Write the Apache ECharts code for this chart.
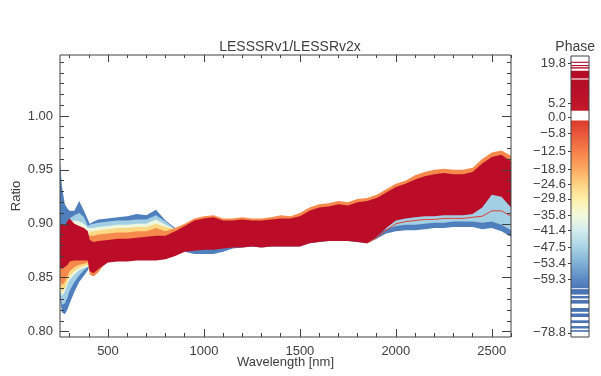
<!DOCTYPE html>
<html>
<head>
<meta charset="utf-8">
<script src="https://cdn.jsdelivr.net/npm/echarts@6/dist/echarts.min.js"></script>
<style>
  html, body { margin: 0; padding: 0; background: #fff; }
  #chart { width: 601px; height: 376px; }
</style>
</head>
<body>
<div id="chart"></div>
<script>
// wavelength grid (nm) the envelopes were read at
const wavelengths = [
  250, 260, 275, 290, 300, 325, 350, 375, 395,
  405, 425, 450, 500, 550, 600, 650, 700, 750, 800, 850,
  900, 950, 1000, 1050, 1100, 1150, 1200, 1250, 1300, 1350, 1400,
  1450, 1500, 1550, 1600, 1650, 1700, 1750, 1800, 1850, 1900, 1950,
  2000, 2050, 2100, 2150, 2200, 2250, 2300, 2350, 2400, 2450, 2500, 2550, 2600
];

// ratio envelopes of the spectra, grouped by phase colour
const blueLo = [
  .830, .818, .816, .821, .826, .837, .846, .852, .857,
  .861, .859, .863, .869, .870, .870, .871, .871, .871, .872, .875,
  .874, .872, .872, .872, .874, .877, .878, .879, .878, .879, .879,
  .879, .879, .882, .883, .884, .884, .884, .883, .882, .886, .891,
  .893, .894, .894, .895, .896, .896, .897, .897, .897, .895, .896, .893, .888
];
const blueHi = [
  .958, .935, .918, .914, .912, .912, .921, .912, .904,
  .900, .902, .904, .905, .906, .907, .909, .908, .913, .903, .896,
  .894, .899, .901, .902, .899, .899, .900, .899, .899, .900, .901,
  .901, .903, .908, .911, .912, .914, .913, .916, .917, .920, .925,
  .930, .933, .937, .940, .942, .943, .942, .942, .944, .952, .958, .960, .954
];
const lightBlueLo = [
  .836, .825, .826, .832, .838, .846, .852, .857, .860,
  .861, .859, .863, .869, .870, .870, .871, .871, .871, .872, .875,
  .879, .880, .881, .881, .882, .883, .883, .884, .883, .884, .884,
  .884, .884, .887, .888, .889, .889, .889, .888, .887, .893, .895,
  .898, .899, .899, .900, .901, .901, .902, .902, .902, .901, .902, .899, .894
];
const lightBlueHi = [
  .892, .895, .893, .898, .905, .908, .910, .906, .898,
  .899, .900, .901, .902, .903, .903, .904, .904, .908, .902, .895,
  .894, .899, .901, .902, .899, .899, .900, .899, .899, .900, .901,
  .901, .903, .908, .911, .912, .914, .913, .916, .917, .920, .925,
  .930, .933, .937, .940, .942, .943, .942, .942, .944, .952, .958, .960, .954
];
const paleLo = [
  .839, .833, .837, .844, .848, .853, .857, .859, .860,
  .861, .859, .863, .869, .870, .870, .871, .871, .871, .872, .875,
  .879, .880, .881, .881, .882, .883, .883, .884, .883, .884, .884,
  .884, .884, .887, .888, .889, .889, .889, .888, .887, .893, .901,
  .908, .910, .911, .912, .912, .913, .913, .913, .914, .920, .932, .930, .920
];
const paleHi = [
  .892, .895, .893, .898, .902, .903, .902, .900, .896,
  .896, .896, .897, .898, .899, .899, .900, .900, .904, .899, .895,
  .894, .899, .901, .902, .899, .899, .900, .899, .899, .900, .901,
  .901, .903, .908, .911, .912, .914, .913, .916, .917, .920, .925,
  .930, .933, .937, .940, .942, .943, .942, .942, .944, .952, .958, .960, .954
];
const yellowLo = [
  .842, .836, .840, .847, .851, .856, .859, .861, .862,
  .861, .859, .863, .869, .870, .870, .871, .871, .871, .872, .875,
  .879, .880, .881, .881, .882, .883, .883, .884, .883, .884, .884,
  .884, .884, .887, .888, .889, .889, .889, .888, .887, .893, .901,
  .908, .910, .911, .912, .912, .913, .913, .913, .914, .920, .932, .930, .920
];
const yellowHi = [
  .892, .895, .893, .898, .900, .895, .893, .891, .888,
  .893, .893, .894, .895, .896, .896, .897, .897, .900, .897, .895,
  .894, .899, .901, .902, .899, .899, .900, .899, .899, .900, .901,
  .901, .903, .908, .911, .912, .914, .913, .916, .917, .920, .925,
  .930, .933, .937, .940, .942, .943, .942, .942, .944, .952, .958, .960, .954
];
const orangeLo = [
  .848, .843, .846, .852, .856, .860, .862, .863, .864,
  .853, .851, .855, .867, .868, .868, .869, .869, .869, .870, .873,
  .877, .878, .879, .879, .880, .881, .881, .882, .881, .882, .882,
  .882, .882, .885, .886, .887, .887, .887, .886, .885, .891, .899,
  .906, .908, .909, .910, .910, .911, .911, .911, .912, .918, .930, .928, .918
];
const orangeHi = [
  .894, .897, .895, .900, .902, .897, .895, .893, .890,
  .889, .889, .890, .891, .892, .892, .893, .893, .896, .893, .896,
  .900, .905, .907, .908, .905, .905, .906, .905, .905, .906, .908,
  .907, .910, .915, .918, .919, .921, .920, .923, .924, .927, .932,
  .937, .940, .945, .948, .950, .951, .950, .950, .952, .960, .966, .968, .963
];
const darkRedLo = [
  .860, .858, .860, .862, .865, .866, .866, .866, .866,
  .856, .854, .858, .864, .865, .865, .866, .866, .866, .867, .870,
  .874, .875, .876, .876, .877, .878, .878, .879, .878, .879, .879,
  .879, .879, .882, .883, .884, .884, .884, .883, .882, .888, .896,
  .903, .905, .906, .907, .907, .908, .908, .908, .909, .915, .927, .925, .915
];
const darkRedHi = [
  .897, .900, .898, .903, .905, .900, .898, .896, .893,
  .885, .883, .884, .885, .886, .886, .887, .888, .889, .889, .893,
  .898, .903, .905, .906, .903, .903, .904, .903, .903, .904, .905,
  .905, .907, .912, .915, .916, .918, .917, .920, .921, .924, .929,
  .934, .937, .941, .944, .946, .947, .946, .946, .948, .956, .962, .964, .958
];

// one single near-zero-phase spectrum seen under the red mass
const redLineWl = [1850, 1900, 1950, 2000, 2050, 2100, 2150, 2200, 2250, 2300, 2350, 2400, 2450, 2500, 2550, 2600];
const redLineVals = [.882, .887, .894, .900, .902, .903, .904, .904, .905, .905, .905, .906, .907, .912, .912, .907];

// colour bar: phase ranges that hold data, and labelled phases
const phaseRanges = [
  [-78.4, -77.8], [-77.2, -76.3], [-75.2, -74.2], [-73.0, -71.7], [-71.1, -69.7],
  [-68.1, -66.8], [-66.2, -65.3], [-64.8, -62.8], [-62.5, -1.2],
  [2.4, 13.8], [14.2, 17.0], [17.8, 18.3], [18.7, 19.1], [19.9, 20.3]
];
const phaseLabels = [19.8, 5.2, 0.0, -5.8, -12.5, -18.9, -24.6, -29.8, -35.8, -41.4, -47.5, -53.4, -59.3, -78.8];
const phaseColorStops = [
  [-63, '#4a74b4'], [-59.3, '#5a8ac2'], [-53.4, '#7fb0d5'], [-47.5, '#a8d3e6'],
  [-41.4, '#d3ecef'], [-35.8, '#f2f9dc'], [-29.8, '#fff0a8'], [-24.6, '#fed283'],
  [-18.9, '#fcaa62'], [-12.5, '#f6804a'], [-5.8, '#e9563a'], [-1.2, '#da3a2c'],
  [2.4, '#c41a2a'], [10, '#b70f28'], [20, '#b00a26']
];

const xMajor = [500, 1000, 1500, 2000, 2500];
const xMinor = [300, 400, 600, 700, 800, 900, 1100, 1200, 1300, 1400, 1600, 1700, 1800, 1900, 2100, 2200, 2300, 2400, 2600];
const yMajor = [0.80, 0.85, 0.90, 0.95, 1.00];
const yMinor = [0.81, 0.82, 0.83, 0.84, 0.86, 0.87, 0.88, 0.89, 0.91, 0.92, 0.93, 0.94, 0.96, 0.97, 0.98, 0.99, 1.01, 1.02, 1.03, 1.04, 1.05];

const ink = '#404040';
const font = { color: ink, fontFamily: 'Liberation Sans', fontSize: 13 };

function hexRgb(h) {
  return [1, 3, 5].map(i => parseInt(h.substr(i, 2), 16));
}
function colorAt(p) {
  const s = phaseColorStops;
  if (p <= s[0][0]) return s[0][1];
  if (p >= s[s.length - 1][0]) return s[s.length - 1][1];
  for (let i = 1; i < s.length; i++) {
    if (p <= s[i][0]) {
      const t = (p - s[i - 1][0]) / (s[i][0] - s[i - 1][0]);
      const a = hexRgb(s[i - 1][1]), b = hexRgb(s[i][1]);
      const c = a.map((v, k) => Math.round(v + (b[k] - v) * t));
      return 'rgb(' + c.join(',') + ')';
    }
  }
}
function segGradient(lo, hi) {
  const stops = [{ offset: 0, color: colorAt(hi) }];
  phaseColorStops.forEach(([p, c]) => {
    if (p > lo && p < hi) stops.push({ offset: (hi - p) / (hi - lo), color: c });
  });
  stops.push({ offset: 1, color: colorAt(lo) });
  stops.sort((a, b) => a.offset - b.offset);
  return new echarts.graphic.LinearGradient(0, 0, 0, 1, stops);
}

function band(color, lo, hi) {
  return {
    type: 'custom',
    xAxisIndex: 0,
    yAxisIndex: 0,
    silent: true,
    data: [[wavelengths[0], lo[0]]],
    renderItem: (params, api) => {
      const pts = [];
      wavelengths.forEach((w, i) => pts.push(api.coord([w, hi[i]])));
      for (let i = wavelengths.length - 1; i >= 0; i--) pts.push(api.coord([wavelengths[i], lo[i]]));
      return { type: 'polygon', shape: { points: pts }, style: { fill: color } };
    }
  };
}

function xAx(pos, ticks, len, labels) {
  return {
    gridIndex: 0, type: 'value', min: 250, max: 2600, position: pos, z: 5,
    axisLine: { show: false, onZero: false }, splitLine: { show: false },
    axisTick: { inside: true, length: len, customValues: ticks, lineStyle: { color: ink } },
    axisLabel: labels ? { customValues: ticks, margin: 8, formatter: v => String(v), ...font } : { show: false }
  };
}
function yAx(pos, ticks, len, labels) {
  return {
    gridIndex: 0, type: 'value', min: 0.795, max: 1.0565, position: pos, z: 5,
    axisLine: { show: false, onZero: false }, splitLine: { show: false },
    axisTick: { inside: true, length: len, customValues: ticks, lineStyle: { color: ink } },
    axisLabel: labels ? { customValues: ticks, margin: 7, formatter: v => v.toFixed(2), ...font } : { show: false }
  };
}

const chart = echarts.init(document.getElementById('chart'));

const xMain = xAx('bottom', xMajor, 8, true);
xMain.name = 'Wavelength [nm]';
xMain.nameLocation = 'middle';
xMain.nameGap = 19;
xMain.nameMoveOverlap = false;
xMain.nameTextStyle = font;
const yMain = yAx('left', yMajor, 9, true);
yMain.name = 'Ratio';
yMain.nameLocation = 'middle';
yMain.nameGap = 37;
yMain.nameMoveOverlap = false;
yMain.nameTextStyle = font;

chart.setOption({
  animation: false,
  backgroundColor: '#fff',
  title: [
    { text: 'LESSSRv1/LESSRv2x', left: 285, top: 35, textAlign: 'center',
      textStyle: { color: ink, fontFamily: 'Liberation Sans', fontSize: 14, fontWeight: 'normal' } },
    { text: 'Phase', right: 1, top: 35,
      textStyle: { color: ink, fontFamily: 'Liberation Sans', fontSize: 14, fontWeight: 'normal' } }
  ],
  grid: [
    { left: 60, top: 55, width: 451, height: 282, show: true, z: 10, outerBoundsMode: 'none',
      borderColor: ink, borderWidth: 1, backgroundColor: 'transparent' },
    { left: 571, top: 56, width: 18, height: 281, show: true, z: 10, outerBoundsMode: 'none',
      borderColor: ink, borderWidth: 1, backgroundColor: 'transparent' }
  ],
  xAxis: [
    xMain,
    xAx('bottom', xMinor, 4, false),
    xAx('top', xMajor, 7, false),
    xAx('top', xMinor, 3, false),
    { gridIndex: 1, type: 'value', min: 0, max: 1, show: false }
  ],
  yAxis: [
    yMain,
    yAx('left', yMinor, 4, false),
    yAx('right', yMajor, 9, false),
    yAx('right', yMinor, 4, false),
    {
      gridIndex: 1, type: 'value', min: -80.3, max: 22.4, position: 'left',
      axisLine: { show: false }, splitLine: { show: false },
      axisTick: { customValues: phaseLabels, length: 3, lineStyle: { color: ink } },
      axisLabel: {
        customValues: phaseLabels, margin: 5, ...font,
        formatter: v => (v < 0 ? '\u2212' : '') + Math.abs(v).toFixed(1)
      }
    }
  ],
  series: [
    band('#4f7fbc', blueLo, blueHi),
    band('#a3cfe5', lightBlueLo, lightBlueHi),
    band('#eef7dd', paleLo, paleHi),
    band('#fdd884', yellowLo, yellowHi),
    band('#f68a4d', orangeLo, orangeHi),
    band('#bb0d28', darkRedLo, darkRedHi),
    {
      type: 'line', xAxisIndex: 0, yAxisIndex: 0, silent: true, symbol: 'none',
      data: redLineWl.map((w, i) => [w, redLineVals[i]]),
      lineStyle: { color: '#e0412f', width: 1 }
    },
    {
      type: 'custom', xAxisIndex: 4, yAxisIndex: 4, silent: true,
      data: phaseRanges,
      encode: { y: [0, 1] },
      renderItem: (params, api) => {
        const lo = api.value(0), hi = api.value(1);
        const a = api.coord([0, hi]), b = api.coord([1, lo]);
        return {
          type: 'rect',
          shape: { x: a[0], y: a[1], width: b[0] - a[0], height: b[1] - a[1] },
          style: { fill: segGradient(lo, hi) }
        };
      }
    }
  ]
});
</script>
</body>
</html>
